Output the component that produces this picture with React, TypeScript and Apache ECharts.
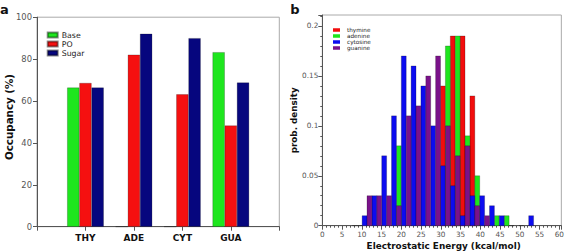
import React, { useEffect, useRef } from 'react';
import * as echarts from 'echarts';

// ---- Panel a: occupancy ----
const occCategories = ['', 'THY', 'ADE', 'CYT', 'GUA', ''];
const occBase = ['-', 66.4, 0, 0, 83.3, '-'];
const occPO = ['-', 68.6, 82.1, 63.2, 48.3, '-'];
const occSugar = ['-', 66.4, 92.1, 90.0, 68.8, '-'];

// ---- Panel b: histograms [bin centre (kcal/mol), prob. density] ----
const binWidth = 1.24;
const thymine = [
  [30.54, 0.14], [33.02, 0.19], [35.5, 0.19], [37.98, 0.13],
];
const adenine = [
  [19.38, 0.08], [31.78, 0.18], [34.26, 0.19], [36.74, 0.09], [39.22, 0.05],
  [44.18, 0.01], [46.66, 0.01],
];
const cytosine = [
  [8.22, 0], [10.7, 0.01], [13.18, 0.03], [15.66, 0.07], [18.14, 0.11], [20.62, 0.17],
  [23.1, 0.16], [25.58, 0.14], [28.06, 0.1], [30.54, 0.06], [33.02, 0.04], [35.5, 0.01],
  [37.98, 0.03], [40.46, 0.03], [42.94, 0.02], [45.42, 0.01], [47.9, 0], [50.38, 0],
  [52.86, 0.01],
];
const guanine = [
  [9.46, 0], [11.94, 0.03], [14.42, 0.03], [16.9, 0.03], [19.38, 0.02], [21.86, 0.11],
  [24.34, 0.12], [26.82, 0.15], [29.3, 0.17], [31.78, 0.1], [34.26, 0.07], [36.74, 0.08],
  [39.22, 0.02], [41.7, 0.01],
];

const FONT = 'DejaVu Sans';

function histSeries(name: string, data: number[][], color: string) {
  return {
    name,
    type: 'custom',
    xAxisIndex: 1,
    yAxisIndex: 1,
    data,
    encode: { x: 0, y: 1 },
    itemStyle: { color },
    renderItem: (params: any, api: any) => {
      const x = api.value(0);
      const y = api.value(1);
      const p0 = api.coord([x - binWidth / 2, y]);
      const p1 = api.coord([x + binWidth / 2, 0]);
      return {
        type: 'rect',
        shape: { x: p0[0], y: p0[1], width: p1[0] - p0[0], height: p1[1] - p0[1] },
        style: { fill: color, stroke: 'rgba(0,0,0,0.45)', lineWidth: 0.5 },
      };
    },
  };
}

function barSeries(name: string, data: any[], color: string) {
  return {
    name,
    type: 'bar',
    xAxisIndex: 0,
    yAxisIndex: 0,
    data,
    barWidth: 12.2,
    barGap: '0%',
    itemStyle: { color, borderColor: 'rgba(0,0,0,0.45)', borderWidth: 0.5 },
  };
}

export default function App() {
  const ref = useRef<HTMLDivElement>(null);
  useEffect(() => {
    if (!ref.current) return;
    const chart = echarts.init(ref.current, undefined, { renderer: 'svg' });
    const axisColor = '#555';
    const labelColor = '#555';
    chart.setOption({
      animation: false,
      backgroundColor: '#fff',
      textStyle: { fontFamily: FONT },
      grid: [
        { left: 37, top: 17.2, width: 242.3, height: 209.5, show: true, borderColor: '#aaa', borderWidth: 1 },
        { left: 322.3, top: 15, width: 242.5, height: 210.7, show: true, borderColor: '#aaa', borderWidth: 1 },
      ],
      xAxis: [
        {
          type: 'category',
          gridIndex: 0,
          data: occCategories,
          boundaryGap: false,
          axisLine: { lineStyle: { color: axisColor, width: 1 } },
          axisTick: { show: true, interval: 0, length: 4, lineStyle: { color: axisColor } },
          axisLabel: { interval: 0, fontFamily: FONT, fontWeight: 'bold', fontSize: 9, color: '#111', margin: 7 },
          splitLine: { show: false },
        },
        {
          type: 'value',
          gridIndex: 1,
          min: 0,
          max: 60.5,
          interval: 5,
          axisLine: { lineStyle: { color: axisColor, width: 1 } },
          axisTick: { show: true, length: 4, lineStyle: { color: axisColor } },
          minorTick: { show: true, splitNumber: 5, length: 2, lineStyle: { color: axisColor } },
          axisLabel: {
            fontFamily: FONT,
            fontSize: 7.3,
            color: labelColor,
            margin: 5,
            formatter: (v: number) => (Math.abs(v / 5 - Math.round(v / 5)) < 1e-6 ? String(Math.round(v)) : ''),
          },
          splitLine: { show: false },
        },
      ],
      yAxis: [
        {
          type: 'value',
          gridIndex: 0,
          min: 0,
          max: 100,
          interval: 20,
          axisLine: { show: true, lineStyle: { color: axisColor, width: 1 } },
          axisTick: { show: true, length: 4, lineStyle: { color: axisColor } },
          axisLabel: { fontFamily: FONT, fontSize: 8.4, color: labelColor, margin: 5 },
          splitLine: { show: false },
        },
        {
          type: 'value',
          gridIndex: 1,
          min: 0,
          max: 0.211,
          interval: 0.05,
          axisLine: { show: true, lineStyle: { color: axisColor, width: 1 } },
          axisTick: { show: true, length: 4, lineStyle: { color: axisColor } },
          minorTick: { show: true, splitNumber: 5, length: 2, lineStyle: { color: axisColor } },
          axisLabel: {
            fontFamily: FONT,
            fontSize: 7.3,
            color: labelColor,
            margin: 4,
            formatter: (v: number) =>
              Math.abs(v / 0.05 - Math.round(v / 0.05)) < 1e-6 ? String(+(Math.round(v / 0.05) * 0.05).toFixed(2)) : '',
          },
          splitLine: { show: false },
        },
      ],
      legend: [
        {
          data: ['Base', 'PO', 'Sugar'],
          orient: 'vertical',
          left: 46.7,
          top: 30.5,
          padding: 0,
          itemGap: 0,
          itemWidth: 10,
          itemHeight: 5,
          icon: 'rect',
          selectedMode: false,
          textStyle: { fontFamily: FONT, fontSize: 7.8, lineHeight: 9, color: '#222', padding: [0, 0, 0, -1] },
        },
        {
          data: ['thymine', 'adenine', 'cytosine', 'guanine'],
          orient: 'vertical',
          left: 333,
          top: 27,
          padding: 0,
          itemGap: 0,
          itemWidth: 7,
          itemHeight: 3.5,
          icon: 'rect',
          selectedMode: false,
          textStyle: { fontFamily: FONT, fontSize: 5.7, lineHeight: 6, color: '#222', padding: [0, 0, 0, 2] },
        },
      ],
      series: [
        barSeries('Base', occBase, '#1ee61e'),
        barSeries('PO', occPO, '#f51010'),
        barSeries('Sugar', occSugar, '#06067e'),
        histSeries('thymine', thymine, '#f20d0d'),
        histSeries('adenine', adenine, '#1ee61e'),
        histSeries('cytosine', cytosine, '#0c0cf0'),
        histSeries('guanine', guanine, '#7a128a'),
      ],
      graphic: [
        { type: 'text', x: 4.5, y: 9.5, style: { text: 'a', font: `bold 13px ${FONT}`, fill: '#111', align: 'center', verticalAlign: 'middle' } },
        { type: 'text', x: 295, y: 9.5, style: { text: 'b', font: `bold 13px ${FONT}`, fill: '#111', align: 'center', verticalAlign: 'middle' } },
        {
          type: 'text', x: 8.5, y: 117, rotation: Math.PI / 2,
          style: { text: 'Occupancy (%)', font: `bold 10.3px ${FONT}`, fill: '#111', align: 'center', verticalAlign: 'middle' },
        },
        {
          type: 'text', x: 293.7, y: 120.3, rotation: Math.PI / 2,
          style: { text: 'prob. density', font: `bold 8.8px ${FONT}`, fill: '#111', align: 'center', verticalAlign: 'middle' },
        },
        {
          type: 'text', x: 443.7, y: 245.5,
          style: { text: 'Electrostatic Energy (kcal/mol)', font: `bold 8.9px ${FONT}`, fill: '#111', align: 'center', verticalAlign: 'middle' },
        },
      ],
    });
    return () => chart.dispose();
  }, []);
  return <div ref={ref} style={{ position: 'absolute', left: 0, top: 0, width: 567, height: 252 }} />;
}
